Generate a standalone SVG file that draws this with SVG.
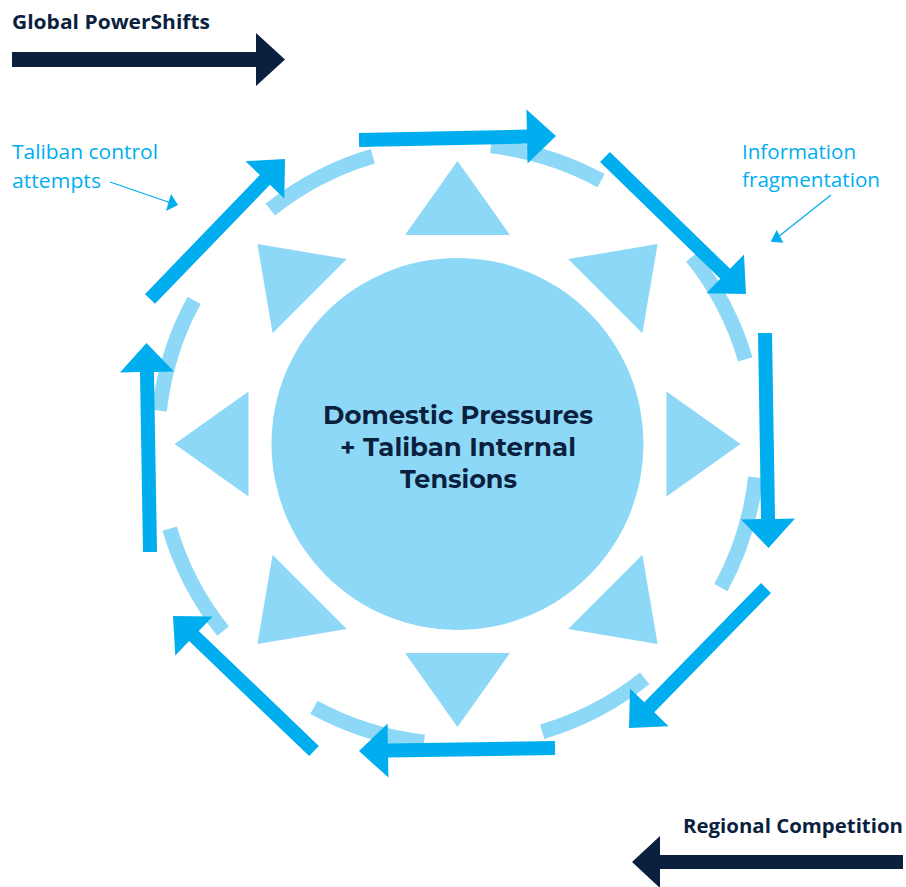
<svg xmlns="http://www.w3.org/2000/svg" width="906" height="887" viewBox="0 0 906 887">
  <style>
    .ring { fill: none; stroke: #8ED8F7; stroke-width: 15; stroke-linecap: butt; }
    .tri { fill: #8ED8F7; }
    .flow { fill: #00AEEF; }
    .dark { fill: #0B1F3F; }
    .title { font-family: "Open Sans", "Noto Sans", sans-serif; font-weight: 700; font-size: 20px; fill: #0B1F3F; }
    .note { font-family: "Open Sans", "Noto Sans", sans-serif; font-weight: 400; font-size: 20.5px; fill: #00AEEF; }
    .center { font-family: "Montserrat", "Inter", "Noto Sans", sans-serif; font-weight: 700; font-size: 25px; fill: #0B1F3F; text-anchor: middle; }
    .leader { stroke: #00AEEF; stroke-width: 1.3; fill: none; }
  </style>
  <defs>
    <polygon id="spike" points="0,-283 -52.5,-209 52.5,-209"/>
  </defs>
  <rect width="906" height="887" fill="#FFFFFF"/>

  <g id="ring">
    <path class="ring" d="M755.63,477.44 A300,300 0 0 1 720.89,587.61"/>
    <path class="ring" d="M644.66,678.46 A300,300 0 0 1 542.20,731.79"/>
    <path class="ring" d="M424.06,742.13 A300,300 0 0 1 313.89,707.39"/>
    <path class="ring" d="M223.04,631.16 A300,300 0 0 1 169.71,528.70"/>
    <path class="ring" d="M159.37,410.56 A300,300 0 0 1 194.11,300.39"/>
    <path class="ring" d="M270.34,209.54 A300,300 0 0 1 372.80,156.21"/>
    <path class="ring" d="M490.94,145.87 A300,300 0 0 1 601.11,180.61"/>
    <path class="ring" d="M691.96,256.84 A300,300 0 0 1 745.29,359.30"/>
  </g>

  <g id="spikes" class="tri">
    <use href="#spike" transform="translate(457.5,444) rotate(0)"/>
    <use href="#spike" transform="translate(457.5,444) rotate(45)"/>
    <use href="#spike" transform="translate(457.5,444) rotate(90)"/>
    <use href="#spike" transform="translate(457.5,444) rotate(135)"/>
    <use href="#spike" transform="translate(457.5,444) rotate(180)"/>
    <use href="#spike" transform="translate(457.5,444) rotate(225)"/>
    <use href="#spike" transform="translate(457.5,444) rotate(270)"/>
    <use href="#spike" transform="translate(457.5,444) rotate(315)"/>
  </g>

  <g id="core">
    <circle cx="457.5" cy="444" r="186" fill="#8ED8F7"/>
    <text class="center" x="458" y="424" textLength="270" lengthAdjust="spacingAndGlyphs">Domestic Pressures</text>
    <text class="center" x="458" y="456" textLength="236" lengthAdjust="spacingAndGlyphs">+ Taliban Internal</text>
    <text class="center" x="458.5" y="488" textLength="117" lengthAdjust="spacingAndGlyphs">Tensions</text>
  </g>

  <g id="connectors" class="flow">
    <polygon points="359.14,147.0 527.15,143.59 527.56,163.58 556,136 526.46,109.60 526.87,129.59 358.86,133.0"/>
    <polygon points="600.12,162.02 720.32,278.81 706.39,293.15 746,294 744.01,254.43 730.08,268.77 609.88,151.98"/>
    <polygon points="758.0,333.11 761.03,519.11 741.03,519.44 768.5,548 795.03,518.56 775.03,518.89 772.0,332.89"/>
    <polygon points="761.0,583.10 644.28,702.37 629.98,688.39 629,728 668.58,726.15 654.28,712.17 771.0,592.90"/>
    <polygon points="554.89,741.0 387.89,743.56 387.58,723.56 359,751 388.41,777.55 388.10,757.56 555.11,755.0"/>
    <polygon points="318.84,745.94 198.79,631.00 212.62,616.56 173,616 175.28,655.56 189.11,641.12 309.16,756.06"/>
    <polygon points="157.0,551.88 153.99,371.88 173.99,371.55 146.5,343 119.99,372.45 139.99,372.12 143.0,552.12"/>
    <polygon points="155.04,303.86 269.91,184.73 284.30,198.61 285,159 245.44,161.13 259.83,175.01 144.96,294.14"/>
  </g>

  <g id="global-powershifts">
    <text class="title" x="12" y="29" textLength="198" lengthAdjust="spacingAndGlyphs">Global PowerShifts</text>
    <polygon class="dark" points="12,52 256,52 256,33 285,59.5 256,86 256,67 12,67"/>
  </g>

  <g id="regional-competition">
    <text class="title" x="683" y="833" textLength="220" lengthAdjust="spacingAndGlyphs">Regional Competition</text>
    <polygon class="dark" points="903,855 660,855 660,836 632,862 660,888 660,869 903,869"/>
  </g>

  <g id="taliban-control">
    <text class="note" x="12" y="159" textLength="146" lengthAdjust="spacingAndGlyphs">Taliban control</text>
    <text class="note" x="12" y="188" textLength="89" lengthAdjust="spacingAndGlyphs">attempts</text>
    <line class="leader" x1="110" y1="182" x2="171" y2="203"/>
    <polygon class="flow" points="178,205 166,211 171,194"/>
  </g>

  <g id="information-fragmentation">
    <text class="note" x="742" y="159" textLength="114" lengthAdjust="spacingAndGlyphs">Information</text>
    <text class="note" x="742" y="187" textLength="138" lengthAdjust="spacingAndGlyphs">fragmentation</text>
    <line class="leader" x1="831" y1="195" x2="778" y2="237"/>
    <polygon class="flow" points="770.7,241.7 783.3,242.7 776.7,230"/>
  </g>
</svg>
